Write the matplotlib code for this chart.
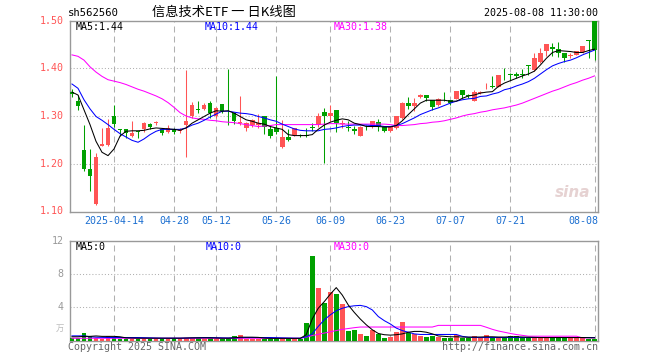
import matplotlib
matplotlib.use('Agg')
import matplotlib.pyplot as plt
from matplotlib.transforms import blended_transform_factory
import numpy as np

# daily candles, 2025-04-02 .. 2025-08-08
opens = [1.350, 1.332, 1.228, 1.188, 1.115, 1.238, 1.240, 1.301, 1.271, 1.272,
         1.259, 1.268, 1.272, 1.283, 1.285, 1.273, 1.267, 1.272, 1.268, 1.281,
         1.301, 1.314, 1.315, 1.327, 1.299, 1.325, 1.317, 1.306, 1.286, 1.275,
         1.282, 1.282, 1.301, 1.272, 1.275, 1.235, 1.256, 1.261, 1.261, 1.260,
         1.276, 1.282, 1.308, 1.301, 1.313, 1.284, 1.276, 1.273, 1.259, 1.277,
         1.278, 1.288, 1.276, 1.268, 1.275, 1.296, 1.327, 1.320, 1.340, 1.344,
         1.334, 1.324, 1.340, 1.333, 1.336, 1.354, 1.343, 1.331, 1.349, 1.362,
         1.363, 1.360, 1.388, 1.387, 1.388, 1.387, 1.406, 1.397, 1.414, 1.436,
         1.445, 1.440, 1.431, 1.425, 1.428, 1.433, 1.459, 1.499]
highs = [1.357, 1.344, 1.282, 1.230, 1.223, 1.274, 1.294, 1.324, 1.272, 1.272,
         1.289, 1.269, 1.287, 1.285, 1.289, 1.275, 1.281, 1.275, 1.275, 1.397,
         1.329, 1.331, 1.327, 1.331, 1.318, 1.326, 1.398, 1.306, 1.341, 1.287,
         1.294, 1.304, 1.301, 1.282, 1.383, 1.292, 1.272, 1.274, 1.263, 1.275,
         1.285, 1.306, 1.317, 1.322, 1.313, 1.292, 1.289, 1.280, 1.280, 1.282,
         1.290, 1.294, 1.278, 1.278, 1.301, 1.329, 1.339, 1.337, 1.346, 1.345,
         1.334, 1.338, 1.350, 1.334, 1.353, 1.355, 1.346, 1.355, 1.353, 1.369,
         1.383, 1.386, 1.400, 1.390, 1.393, 1.399, 1.407, 1.431, 1.442, 1.451,
         1.452, 1.454, 1.431, 1.431, 1.436, 1.447, 1.459, 1.499]
lows = [1.340, 1.313, 1.185, 1.143, 1.113, 1.237, 1.238, 1.278, 1.259, 1.254,
        1.256, 1.254, 1.266, 1.272, 1.281, 1.260, 1.265, 1.263, 1.264, 1.214,
        1.296, 1.306, 1.312, 1.296, 1.296, 1.306, 1.282, 1.283, 1.282, 1.269,
        1.278, 1.275, 1.263, 1.254, 1.263, 1.233, 1.247, 1.259, 1.256, 1.256,
        1.268, 1.278, 1.201, 1.289, 1.266, 1.275, 1.268, 1.263, 1.258, 1.270,
        1.275, 1.269, 1.267, 1.266, 1.273, 1.294, 1.315, 1.311, 1.338, 1.331,
        1.312, 1.320, 1.331, 1.324, 1.335, 1.338, 1.338, 1.331, 1.346, 1.357,
        1.358, 1.360, 1.376, 1.376, 1.379, 1.379, 1.386, 1.394, 1.410, 1.426,
        1.426, 1.424, 1.414, 1.421, 1.427, 1.431, 1.421, 1.417]
closes = [1.347, 1.320, 1.188, 1.174, 1.214, 1.242, 1.275, 1.284, 1.270, 1.265,
          1.265, 1.267, 1.285, 1.276, 1.287, 1.265, 1.274, 1.267, 1.271, 1.290,
          1.324, 1.313, 1.322, 1.306, 1.317, 1.310, 1.316, 1.289, 1.287, 1.285,
          1.292, 1.285, 1.278, 1.259, 1.266, 1.255, 1.249, 1.274, 1.258, 1.258,
          1.275, 1.301, 1.301, 1.306, 1.285, 1.286, 1.275, 1.268, 1.278, 1.276,
          1.289, 1.280, 1.268, 1.276, 1.299, 1.327, 1.320, 1.328, 1.344, 1.337,
          1.319, 1.335, 1.339, 1.327, 1.353, 1.345, 1.342, 1.351, 1.350, 1.363,
          1.360, 1.386, 1.387, 1.386, 1.383, 1.386, 1.405, 1.421, 1.431, 1.451,
          1.440, 1.431, 1.421, 1.427, 1.436, 1.447, 1.458, 1.438]

ma5 = [1.350, 1.344, 1.313, 1.282, 1.247, 1.224, 1.217, 1.231, 1.258, 1.268,
       1.269, 1.269, 1.270, 1.273, 1.275, 1.274, 1.273, 1.272, 1.270, 1.275,
       1.285, 1.292, 1.299, 1.306, 1.311, 1.310, 1.311, 1.306, 1.299, 1.292,
       1.289, 1.285, 1.283, 1.278, 1.275, 1.272, 1.261, 1.259, 1.259, 1.259,
       1.261, 1.272, 1.281, 1.287, 1.291, 1.294, 1.292, 1.285, 1.282, 1.278,
       1.278, 1.278, 1.277, 1.277, 1.280, 1.290, 1.303, 1.315, 1.327, 1.333,
       1.333, 1.333, 1.333, 1.331, 1.331, 1.337, 1.342, 1.344, 1.348, 1.350,
       1.351, 1.362, 1.369, 1.374, 1.379, 1.384, 1.388, 1.394, 1.407, 1.421,
       1.433, 1.437, 1.436, 1.435, 1.433, 1.433, 1.437, 1.440]
ma10 = [1.367, 1.358, 1.334, 1.315, 1.299, 1.291, 1.282, 1.272, 1.263, 1.256,
        1.249, 1.245, 1.252, 1.261, 1.268, 1.272, 1.272, 1.272, 1.272, 1.275,
        1.281, 1.285, 1.291, 1.298, 1.304, 1.310, 1.310, 1.308, 1.306, 1.305,
        1.303, 1.299, 1.296, 1.292, 1.289, 1.283, 1.278, 1.273, 1.270, 1.269,
        1.269, 1.269, 1.272, 1.273, 1.275, 1.278, 1.280, 1.281, 1.281, 1.281,
        1.280, 1.280, 1.278, 1.278, 1.280, 1.284, 1.290, 1.296, 1.303, 1.308,
        1.313, 1.317, 1.322, 1.327, 1.331, 1.334, 1.336, 1.337, 1.341, 1.342,
        1.346, 1.349, 1.355, 1.358, 1.363, 1.367, 1.372, 1.379, 1.388, 1.397,
        1.405, 1.410, 1.414, 1.417, 1.422, 1.428, 1.433, 1.438]
ma30 = [1.428, 1.425, 1.417, 1.403, 1.392, 1.383, 1.376, 1.373, 1.370, 1.366,
        1.361, 1.356, 1.352, 1.347, 1.342, 1.336, 1.328, 1.318, 1.307, 1.300,
        1.296, 1.294, 1.293, 1.291, 1.290, 1.288, 1.287, 1.286, 1.284, 1.282,
        1.280, 1.278, 1.279, 1.280, 1.282, 1.282, 1.282, 1.282, 1.282, 1.282,
        1.282, 1.282, 1.283, 1.284, 1.284, 1.283, 1.283, 1.283, 1.283, 1.283,
        1.283, 1.283, 1.283, 1.282, 1.280, 1.280, 1.281, 1.282, 1.284, 1.285,
        1.287, 1.288, 1.290, 1.293, 1.296, 1.300, 1.303, 1.305, 1.308, 1.310,
        1.313, 1.315, 1.317, 1.320, 1.323, 1.327, 1.332, 1.337, 1.342, 1.347,
        1.352, 1.356, 1.361, 1.366, 1.370, 1.375, 1.379, 1.384]

# volume, in 10k (万) units
volumes = [0.36, 0.36, 0.92, 0.56, 0.36, 0.24, 0.56, 0.36, 0.24, 0.24,
           0.24, 0.24, 0.24, 0.24, 0.24, 0.24, 0.24, 0.24, 0.24, 0.36,
           0.36, 0.36, 0.24, 0.36, 0.24, 0.24, 0.30, 0.56, 0.68, 0.24,
           0.24, 0.24, 0.24, 0.24, 0.30, 0.24, 0.24, 0.24, 0.24, 2.16,
           10.2, 6.36, 4.56, 5.88, 5.60, 4.44, 1.20, 1.28, 0.80, 0.56,
           1.28, 0.80, 0.36, 0.48, 1.04, 2.24, 0.88, 0.80, 0.56, 0.48,
           0.60, 0.48, 0.36, 0.36, 0.64, 0.36, 0.25, 0.56, 0.36, 0.64,
           0.36, 0.36, 0.36, 0.56, 0.56, 0.36, 0.36, 0.36, 0.36, 0.36,
           0.36, 0.36, 0.36, 0.36, 0.36, 0.36, 0.24, 0.24]
vol_ma5 = [0.45, 0.45, 0.50, 0.50, 0.55, 0.50, 0.50, 0.50, 0.45, 0.32,
           0.30, 0.28, 0.28, 0.28, 0.28, 0.28, 0.28, 0.28, 0.28, 0.30,
           0.32, 0.32, 0.32, 0.32, 0.30, 0.28, 0.28, 0.32, 0.40, 0.40,
           0.40, 0.38, 0.30, 0.26, 0.26, 0.26, 0.26, 0.26, 0.26, 0.70,
           2.60, 3.90, 4.70, 5.60, 6.40, 5.50, 4.30, 3.40, 2.60, 1.90,
           1.30, 0.85, 0.70, 0.65, 0.70, 0.80, 1.00, 1.10, 1.10, 1.00,
           0.80, 0.55, 0.50, 0.45, 0.45, 0.42, 0.40, 0.42, 0.42, 0.45,
           0.45, 0.42, 0.42, 0.45, 0.45, 0.42, 0.40, 0.38, 0.36, 0.36,
           0.36, 0.36, 0.36, 0.36, 0.36, 0.36, 0.34, 0.32]
vol_ma10 = [0.56, 0.56, 0.56, 0.45, 0.40, 0.38, 0.36, 0.36, 0.36, 0.36,
            0.36, 0.36, 0.34, 0.32, 0.30, 0.28, 0.28, 0.28, 0.28, 0.30,
            0.32, 0.34, 0.36, 0.36, 0.34, 0.32, 0.30, 0.32, 0.34, 0.36,
            0.36, 0.36, 0.36, 0.36, 0.34, 0.32, 0.30, 0.28, 0.28, 0.45,
            0.80, 1.70, 2.50, 3.10, 3.60, 3.90, 4.10, 4.20, 4.25, 4.10,
            3.70, 2.90, 2.40, 2.00, 1.50, 1.20, 1.00, 0.80, 0.73, 0.73,
            0.73, 0.73, 0.73, 0.73, 0.73, 0.50, 0.40, 0.36, 0.36, 0.36,
            0.36, 0.36, 0.36, 0.36, 0.36, 0.36, 0.36, 0.36, 0.36, 0.36,
            0.36, 0.36, 0.36, 0.36, 0.36, 0.36, 0.36, 0.36]
vol_ma30 = [0.27, 0.27, 0.27, 0.27, 0.27, 0.27, 0.27, 0.27, 0.27, 0.27,
            0.27, 0.27, 0.27, 0.27, 0.27, 0.27, 0.27, 0.27, 0.27, 0.27,
            0.27, 0.27, 0.27, 0.27, 0.27, 0.27, 0.27, 0.27, 0.27, 0.27,
            0.27, 0.27, 0.27, 0.27, 0.27, 0.27, 0.27, 0.27, 0.27, 0.40,
            0.60, 0.75, 0.90, 1.05, 1.20, 1.35, 1.45, 1.55, 1.63, 1.63,
            1.63, 1.63, 1.63, 1.63, 1.63, 1.63, 1.63, 1.63, 1.63, 1.63,
            1.63, 1.83, 1.83, 1.83, 1.83, 1.83, 1.83, 1.83, 1.83, 1.60,
            1.35, 1.15, 1.00, 0.85, 0.72, 0.62, 0.52, 0.52, 0.52, 0.52,
            0.52, 0.52, 0.52, 0.52, 0.52, 0.32, 0.32, 0.32]

tick_pos = [7, 17, 24, 34, 43, 53, 63, 73, 87]
tick_labels = ['2025-04-14', '04-28', '05-12', '05-26', '06-09',
               '06-23', '07-07', '07-21', '08-08']
price_ticks = [1.50, 1.40, 1.30, 1.20, 1.10]
vol_ticks = [12, 8, 4]

RED = '#ff5555'
GREEN = '#00a000'
MONO = 'DejaVu Sans Mono'
CJK = ['Noto Sans CJK SC', 'DejaVu Sans']
GRID = '#b0b0b0'
FS = 7.2
LW = 0.75

plt.rcParams['lines.scale_dashes'] = False

W, H = 660.0, 360.0
fig = plt.figure(figsize=(6.6, 3.6), dpi=100)
fig.patch.set_facecolor('white')


def px(x0, y0, x1, y1):
    return [x0 / W, 1 - y1 / H, (x1 - x0) / W, (y1 - y0) / H]


def styleAxes(ax):
    for s in ax.spines.values():
        s.set_color('#999999')
        s.set_linewidth(1.0)
    ax.set_xticks([])
    ax.set_yticks([])
    ax.set_xlim(-0.33, 87.58)
    for t in tick_pos:
        ax.axvline(t, color=GRID, lw=LW, ls=(0, (4.3, 2.9)), zorder=0)


def drawPrice(ax):
    x = np.arange(len(closes))
    o = np.array(opens); c = np.array(closes)
    up = c >= o
    cols = np.where(up, RED, GREEN)
    ax.vlines(x, lows, highs, colors=cols, lw=LW, zorder=2)
    body = np.maximum(np.abs(c - o), 0.0018)
    ax.bar(x, body, bottom=np.minimum(o, c), width=0.78, color=cols,
           linewidth=0, zorder=3)
    ax.plot(x, ma30, color='#ff00ff', lw=LW, zorder=4)
    ax.plot(x, ma10, color='#0000ff', lw=LW, zorder=4)
    ax.plot(x, ma5, color='black', lw=LW, zorder=4)
    ax.set_ylim(1.10, 1.50)
    for p in [1.40, 1.30, 1.20]:
        ax.axhline(p, color=GRID, lw=LW, ls=(0, (0.75, 1.5)), zorder=0)
    for p in price_ticks:
        ax.text(-0.012, p, '%.2f' % p, transform=blended_transform_factory(ax.transAxes, ax.transData),
                ha='right', va='center', color=RED, family=MONO, fontsize=FS)
    tr = blended_transform_factory(ax.transData, ax.transAxes)
    for t, lab in zip(tick_pos, tick_labels):
        ha = 'right' if t == tick_pos[-1] else 'center'
        xt = t + 0.6 if ha == 'right' else t
        ax.text(xt, -0.025, lab, transform=tr, ha=ha, va='top',
                color='#1c6fd1', family=MONO, fontsize=FS)
    ax.text(0.01, 0.965, 'MA5:%.2f' % ma5[-1], transform=ax.transAxes, va='center',
            color='black', family=MONO, fontsize=FS)
    ax.text(0.255, 0.965, 'MA10:%.2f' % ma10[-1], transform=ax.transAxes, va='center',
            color='#0000ff', family=MONO, fontsize=FS)
    ax.text(0.4995, 0.965, 'MA30:%.2f' % ma30[-1], transform=ax.transAxes, va='center',
            color='#ff00ff', family=MONO, fontsize=FS)
    ax.text(0.985, 0.06, 'sina', transform=ax.transAxes, ha='right', va='bottom',
            color='#e6d2d2', fontsize=11, fontweight='bold', style='italic', zorder=1)


def drawVolume(ax):
    x = np.arange(len(volumes))
    up = np.array(closes) >= np.array(opens)
    cols = np.where(up, RED, GREEN)
    ax.bar(x, volumes, width=0.8, color=cols, linewidth=0, zorder=3)
    ax.plot(x, vol_ma30, color='#ff00ff', lw=LW, zorder=4)
    ax.plot(x, vol_ma10, color='#0000ff', lw=LW, zorder=4)
    ax.plot(x, vol_ma5, color='black', lw=LW, zorder=4)
    ax.set_ylim(0, 12.1)
    for v in [8, 4]:
        ax.axhline(v, color=GRID, lw=LW, ls=(0, (0.75, 1.5)), zorder=0)
    for v in vol_ticks:
        ax.text(-0.012, v, str(v), transform=blended_transform_factory(ax.transAxes, ax.transData),
                ha='right', va='center', color='#999999', family=MONO, fontsize=FS)
    ax.text(-0.012, 1.5, '万', transform=blended_transform_factory(ax.transAxes, ax.transData),
            ha='right', va='center', color='#bbbbbb', family=CJK, fontsize=6)
    ax.text(0.01, 0.94, 'MA5:0', transform=ax.transAxes, va='center',
            color='black', family=MONO, fontsize=FS)
    ax.text(0.257, 0.94, 'MA10:0', transform=ax.transAxes, va='center',
            color='#0000ff', family=MONO, fontsize=FS)
    ax.text(0.5, 0.94, 'MA30:0', transform=ax.transAxes, va='center',
            color='#ff00ff', family=MONO, fontsize=FS)


axp = fig.add_axes(px(70, 20.5, 598, 211.5))
styleAxes(axp)
drawPrice(axp)

axv = fig.add_axes(px(70, 240.5, 598, 340.5))
styleAxes(axv)
drawVolume(axv)

fig.text(68 / W, 1 - 13 / H, 'sh562560', va='center', family=MONO, fontsize=7.6)
fig.text(224 / W, 1 - 12.5 / H, '信息技术ETF 一 日K线图', ha='center', va='center',
         family=CJK, fontsize=9.5)
fig.text(598 / W, 1 - 13 / H, '2025-08-08 11:30:00', ha='right', va='center',
         family=MONO, fontsize=FS)
fig.text(68 / W, 1 - 347.5 / H, 'Copyright 2025 SINA.COM', va='center',
         color='#666666', family=MONO, fontsize=FS)
fig.text(598 / W, 1 - 347.5 / H, 'http://finance.sina.com.cn', ha='right', va='center',
         color='#666666', family=MONO, fontsize=FS)

fig.savefig('out.png', dpi=100, facecolor='white')
